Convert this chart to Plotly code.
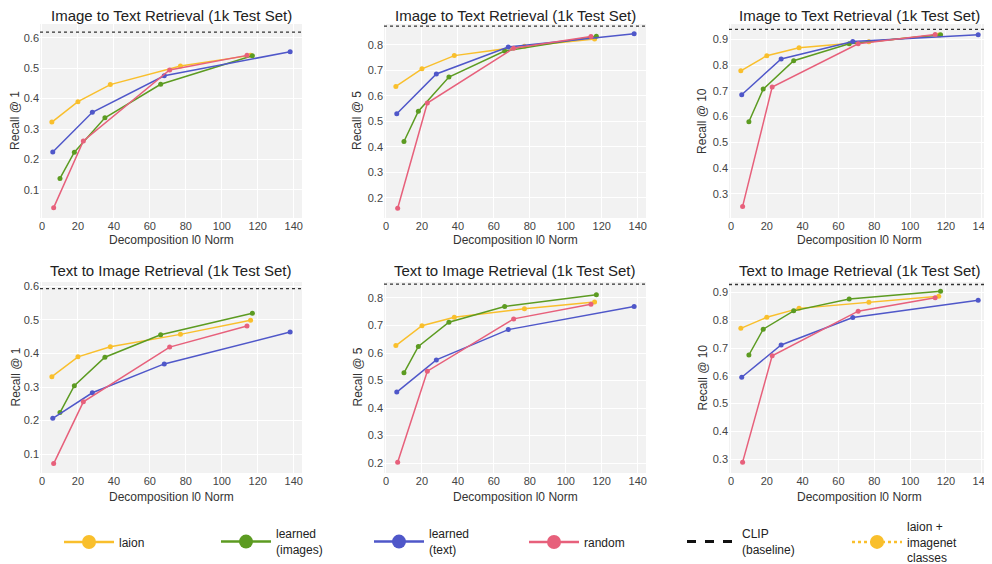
import plotly.graph_objects as go

# ---------------- data ----------------
x_laion = [5.5, 20, 38, 77, 116]
x_learned_img = [10, 18, 35, 66, 117]
x_learned_txt = [6, 28, 68, 138]
x_random = [6.5, 23, 71, 114]

titles = [
    "Image to Text Retrieval (1k Test Set)",
    "Image to Text Retrieval (1k Test Set)",
    "Image to Text Retrieval (1k Test Set)",
    "Text to Image Retrieval (1k Test Set)",
    "Text to Image Retrieval (1k Test Set)",
    "Text to Image Retrieval (1k Test Set)",
]
ylabels = ["Recall @ 1", "Recall @ 5", "Recall @ 10", "Recall @ 1", "Recall @ 5", "Recall @ 10"]
xlabel = "Decomposition l0 Norm"

# Image -> Text
i2t_r1_laion = [0.323, 0.390, 0.446, 0.507, 0.542]
i2t_r1_img = [0.138, 0.224, 0.337, 0.447, 0.541]
i2t_r1_txt = [0.225, 0.355, 0.475, 0.554]
i2t_r1_rand = [0.042, 0.261, 0.494, 0.542]

i2t_r5_laion = [0.637, 0.706, 0.758, 0.795, 0.823]
i2t_r5_img = [0.421, 0.540, 0.674, 0.776, 0.834]
i2t_r5_txt = [0.530, 0.686, 0.792, 0.844]
i2t_r5_rand = [0.159, 0.572, 0.787, 0.833]

i2t_r10_laion = [0.778, 0.837, 0.868, 0.891, 0.917]
i2t_r10_img = [0.580, 0.707, 0.817, 0.883, 0.918]
i2t_r10_txt = [0.685, 0.824, 0.892, 0.918]
i2t_r10_rand = [0.251, 0.715, 0.883, 0.919]

# Text -> Image
t2i_r1_laion = [0.331, 0.390, 0.420, 0.457, 0.499]
t2i_r1_img = [0.224, 0.304, 0.389, 0.456, 0.520]
t2i_r1_txt = [0.207, 0.283, 0.369, 0.464]
t2i_r1_rand = [0.072, 0.256, 0.419, 0.482]

t2i_r5_laion = [0.627, 0.699, 0.730, 0.761, 0.785]
t2i_r5_img = [0.528, 0.624, 0.712, 0.769, 0.812]
t2i_r5_txt = [0.458, 0.575, 0.685, 0.769]
t2i_r5_rand = [0.203, 0.534, 0.724, 0.777]

t2i_r10_laion = [0.771, 0.811, 0.843, 0.865, 0.887]
t2i_r10_img = [0.675, 0.768, 0.834, 0.877, 0.905]
t2i_r10_txt = [0.595, 0.711, 0.810, 0.872]
t2i_r10_rand = [0.289, 0.672, 0.833, 0.881]

clip_baseline = [0.618, 0.874, 0.939, 0.593, 0.850, 0.929]

panels = [
    (i2t_r1_laion, i2t_r1_img, i2t_r1_txt, i2t_r1_rand),
    (i2t_r5_laion, i2t_r5_img, i2t_r5_txt, i2t_r5_rand),
    (i2t_r10_laion, i2t_r10_img, i2t_r10_txt, i2t_r10_rand),
    (t2i_r1_laion, t2i_r1_img, t2i_r1_txt, t2i_r1_rand),
    (t2i_r5_laion, t2i_r5_img, t2i_r5_txt, t2i_r5_rand),
    (t2i_r10_laion, t2i_r10_img, t2i_r10_txt, t2i_r10_rand),
]
y_ranges = [
    [0.008, 0.645], [0.121, 0.882], [0.206, 0.960],
    [0.044, 0.613], [0.164, 0.858], [0.250, 0.938],
]

# ---------------- style ----------------
C_LAION = "#f9bf2c"
C_IMG = "#5c9b21"
C_TXT = "#4f57c9"
C_RAND = "#e7607b"
FONT = "Liberation Sans, Arial, sans-serif"
W, H = 992, 564

# pixel boxes of the axes (figure coordinates)
col_px = [(32, 294), (376, 638), (721, 982)]
row_px = [(16, 210), (274, 465)]
title_px = [7, 262]
xtitle_px = [232, 489]
ytitle_px = [7, 349, 694]

fig = go.Figure()
layout = dict(
    width=W, height=H,
    margin=dict(l=0, r=0, t=0, b=0, autoexpand=False),
    paper_bgcolor="white",
    plot_bgcolor="#f2f2f2",
    font=dict(family=FONT, color="#333333", size=12),
    showlegend=True,
    annotations=[],
    shapes=[],
)

for i, (laion, img, txt, rnd) in enumerate(panels):
    r, c = divmod(i, 3)
    k = i + 1
    sfx = "" if k == 1 else str(k)
    xa, ya = "x" + sfx, "y" + sfx
    x0, x1 = col_px[c]
    yt, yb = row_px[r]
    layout["xaxis" + sfx] = dict(
        domain=[x0 / W, x1 / W], anchor=ya, range=[-1.1, 144.6],
        dtick=20, tick0=0, showgrid=True, gridcolor="white", gridwidth=1,
        zeroline=False, showline=False, ticks="",
        tickfont=dict(size=11, color="#444444"),
    )
    layout["yaxis" + sfx] = dict(
        domain=[1 - yb / H, 1 - yt / H], anchor=xa, range=y_ranges[i],
        dtick=0.1, tick0=0, showgrid=True, gridcolor="white", gridwidth=1,
        zeroline=False, showline=False, ticks="",
        tickfont=dict(size=11, color="#444444"),
    )
    # subplot title
    layout["annotations"].append(dict(
        text=titles[i], xref="paper", yref="paper",
        x=(x0 + x1) / 2 / W, y=1 - title_px[r] / H, xanchor="center", yanchor="middle",
        showarrow=False, font=dict(size=15, color="#222222", family=FONT),
    ))
    # x axis title
    layout["annotations"].append(dict(
        text=xlabel, xref="paper", yref="paper",
        x=(x0 + x1) / 2 / W, y=1 - xtitle_px[r] / H, xanchor="center", yanchor="middle",
        showarrow=False, font=dict(size=12, color="#333333", family=FONT),
    ))
    # y axis title
    layout["annotations"].append(dict(
        text=ylabels[i], xref="paper", yref="paper", textangle=-90,
        x=ytitle_px[c] / W, y=1 - (yt + yb) / 2 / H, xanchor="center", yanchor="middle",
        showarrow=False, font=dict(size=12, color="#333333", family=FONT),
    ))
    for xs, ys, col in [(x_laion, laion, C_LAION), (x_learned_img, img, C_IMG),
                        (x_learned_txt, txt, C_TXT), (x_random, rnd, C_RAND)]:
        fig.add_trace(go.Scatter(
            x=xs, y=ys, xaxis=xa, yaxis=ya, mode="lines+markers",
            line=dict(color=col, width=1.5), marker=dict(color=col, size=5),
            showlegend=False, hoverinfo="x+y",
        ))
    # CLIP baseline (dotted horizontal line across the axes)
    layout["shapes"].append(dict(
        type="line", xref=f"{xa} domain", yref=ya, x0=0, x1=1,
        y0=clip_baseline[i], y1=clip_baseline[i],
        line=dict(color="#333333", width=1.3, dash="dot"),
    ))

# legend-only entries, one legend per entry so each can be placed exactly
legend_items = [
    ("laion", C_LAION, "solid", True),
    ("learned<br>(images)", C_IMG, "solid", True),
    ("learned<br>(text)", C_TXT, "solid", True),
    ("random", C_RAND, "solid", True),
    ("CLIP<br>(baseline)", "#111111", "dash", False),
    ("laion +<br>imagenet<br>classes", C_LAION, "dot", True),
]
legend_x_px = [51, 208, 361, 516, 674, 839]
legend_y_px = 534
for j, (name, col, dash, has_marker) in enumerate(legend_items):
    lid = "legend" if j == 0 else f"legend{j + 1}"
    fig.add_trace(go.Scatter(
        x=[None], y=[None], name=name, legend=lid,
        mode="lines+markers" if has_marker else "lines",
        line=dict(color=col, width=2.5 if dash != "dash" else 3, dash=dash),
        marker=dict(color=col, size=14),
        showlegend=True,
    ))
    layout[lid] = dict(
        xref="container", yref="container",
        x=legend_x_px[j] / W, xanchor="left",
        y=1 - legend_y_px / H, yanchor="middle",
        itemwidth=50, font=dict(size=12, color="#222222", family=FONT),
        bgcolor="rgba(0,0,0,0)", valign="middle",
    )

fig.update_layout(**layout)
fig.write_html("out.html")
